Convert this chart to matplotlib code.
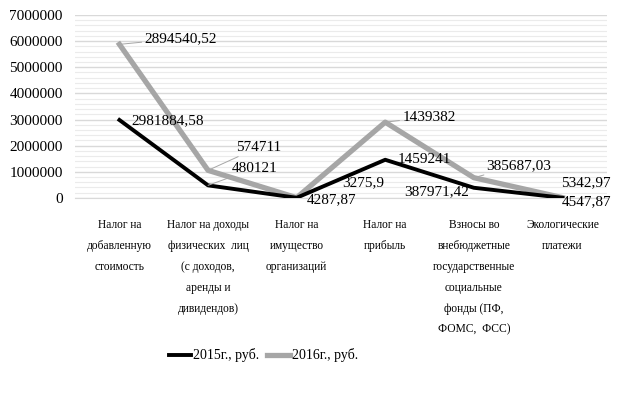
import numpy as np
import matplotlib.pyplot as plt
from matplotlib.ticker import MultipleLocator

plt.rcParams['font.family'] = ['Liberation Serif', 'DejaVu Serif']

categories = ["Налог на\nдобавленную\nстоимость",
              "Налог на доходы\nфизических  лиц\n(с доходов,\nаренды и\nдивидендов)",
              "Налог на\nимущество\nорганизаций",
              "Налог на\nприбыль",
              "Взносы во\nвнебюджетные\nгосударственные\nсоциальные\nфонды (ПФ,\nФОМС,  ФСС)",
              "Экологические\nплатежи"]
vals_2015 = [2981884.58, 480121, 4287.87, 1459241, 387971.42, 4547.87]
vals_2016 = [2894540.52, 574711, 3275.9, 1439382, 385687.03, 5342.97]
labels_2015 = ["2981884,58", "480121", "4287,87", "1459241", "387971,42", "4547,87"]
labels_2016 = ["2894540,52", "574711", "3275,9", "1439382", "385687,03", "5342,97"]

# stacked lines (2016 drawn on top of 2015)
y1 = np.array(vals_2015)
y2 = y1 + np.array(vals_2016)
x = np.arange(len(categories))

fig = plt.figure(figsize=(6.21, 3.95), dpi=100)
ax = fig.add_axes([0.121, 0.499, 0.856, 0.463])

ax.plot(x, y2, color='#A6A6A6', lw=3.8, solid_joinstyle='round', zorder=3, label="2016г., руб.")
ax.plot(x, y1, color='black', lw=2.8, solid_joinstyle='round', zorder=4, label="2015г., руб.")

ax.set_xlim(-0.5, len(categories) - 0.5)
ax.set_ylim(0, 7000000)
ax.yaxis.set_major_locator(MultipleLocator(1000000))
ax.yaxis.set_minor_locator(MultipleLocator(200000))
ax.grid(axis='y', which='major', color='#D9D9D9', lw=1.0, zorder=0)
ax.grid(axis='y', which='minor', color='#EBEBEB', lw=0.8, zorder=0)
ax.set_axisbelow(True)
for s in ['top', 'right', 'left']:
    ax.spines[s].set_visible(False)
ax.spines['bottom'].set_color('#D9D9D9')
ax.tick_params(axis='both', which='both', length=0)
ax.tick_params(axis='y', labelsize=11, pad=9)
ax.set_yticks(np.arange(0, 7000001, 1000000))
ax.set_yticklabels([str(v) for v in range(0, 7000001, 1000000)])
ax.set_xticks(x)
ax.set_xticklabels(categories, fontsize=8.3, linespacing=2.0, va='top')
ax.tick_params(axis='x', pad=15)

# label offsets in pixels (dx, dy, ha, leader)
off_2015 = [(12, -1, 'left', False), (24, 17, 'left', True), (10, -2, 'left', False),
            (12, 0, 'left', False), (-5, -4, 'right', False), (-1, -4, 'left', False)]
off_2016 = [(25, 6, 'left', True), (28, 23, 'left', True), (46, 15, 'left', False),
            (17, 5, 'left', True), (12, 12, 'left', True), (-1, 15, 'left', False)]

for yy, labs, offs in [(y1, labels_2015, off_2015), (y2, labels_2016, off_2016)]:
    for i in range(len(x)):
        dx, dy, ha, lead = offs[i]
        kw = {}
        if lead:
            kw['arrowprops'] = dict(arrowstyle='-', color='#A6A6A6', lw=0.7,
                                    shrinkA=0, shrinkB=0)
        ax.annotate(labs[i], (x[i], yy[i]), xytext=(dx, dy), textcoords='offset pixels',
                    ha=ha, va='center', fontsize=11, zorder=5, annotation_clip=False, **kw)

h, l = ax.get_legend_handles_labels()
fig.legend(h[::-1], l[::-1], loc='center', bbox_to_anchor=(0.424, 0.10), ncol=2,
           frameon=False, fontsize=10, handlelength=1.6, handletextpad=0.15, columnspacing=0.6)

fig.savefig('out.png', dpi=100)
